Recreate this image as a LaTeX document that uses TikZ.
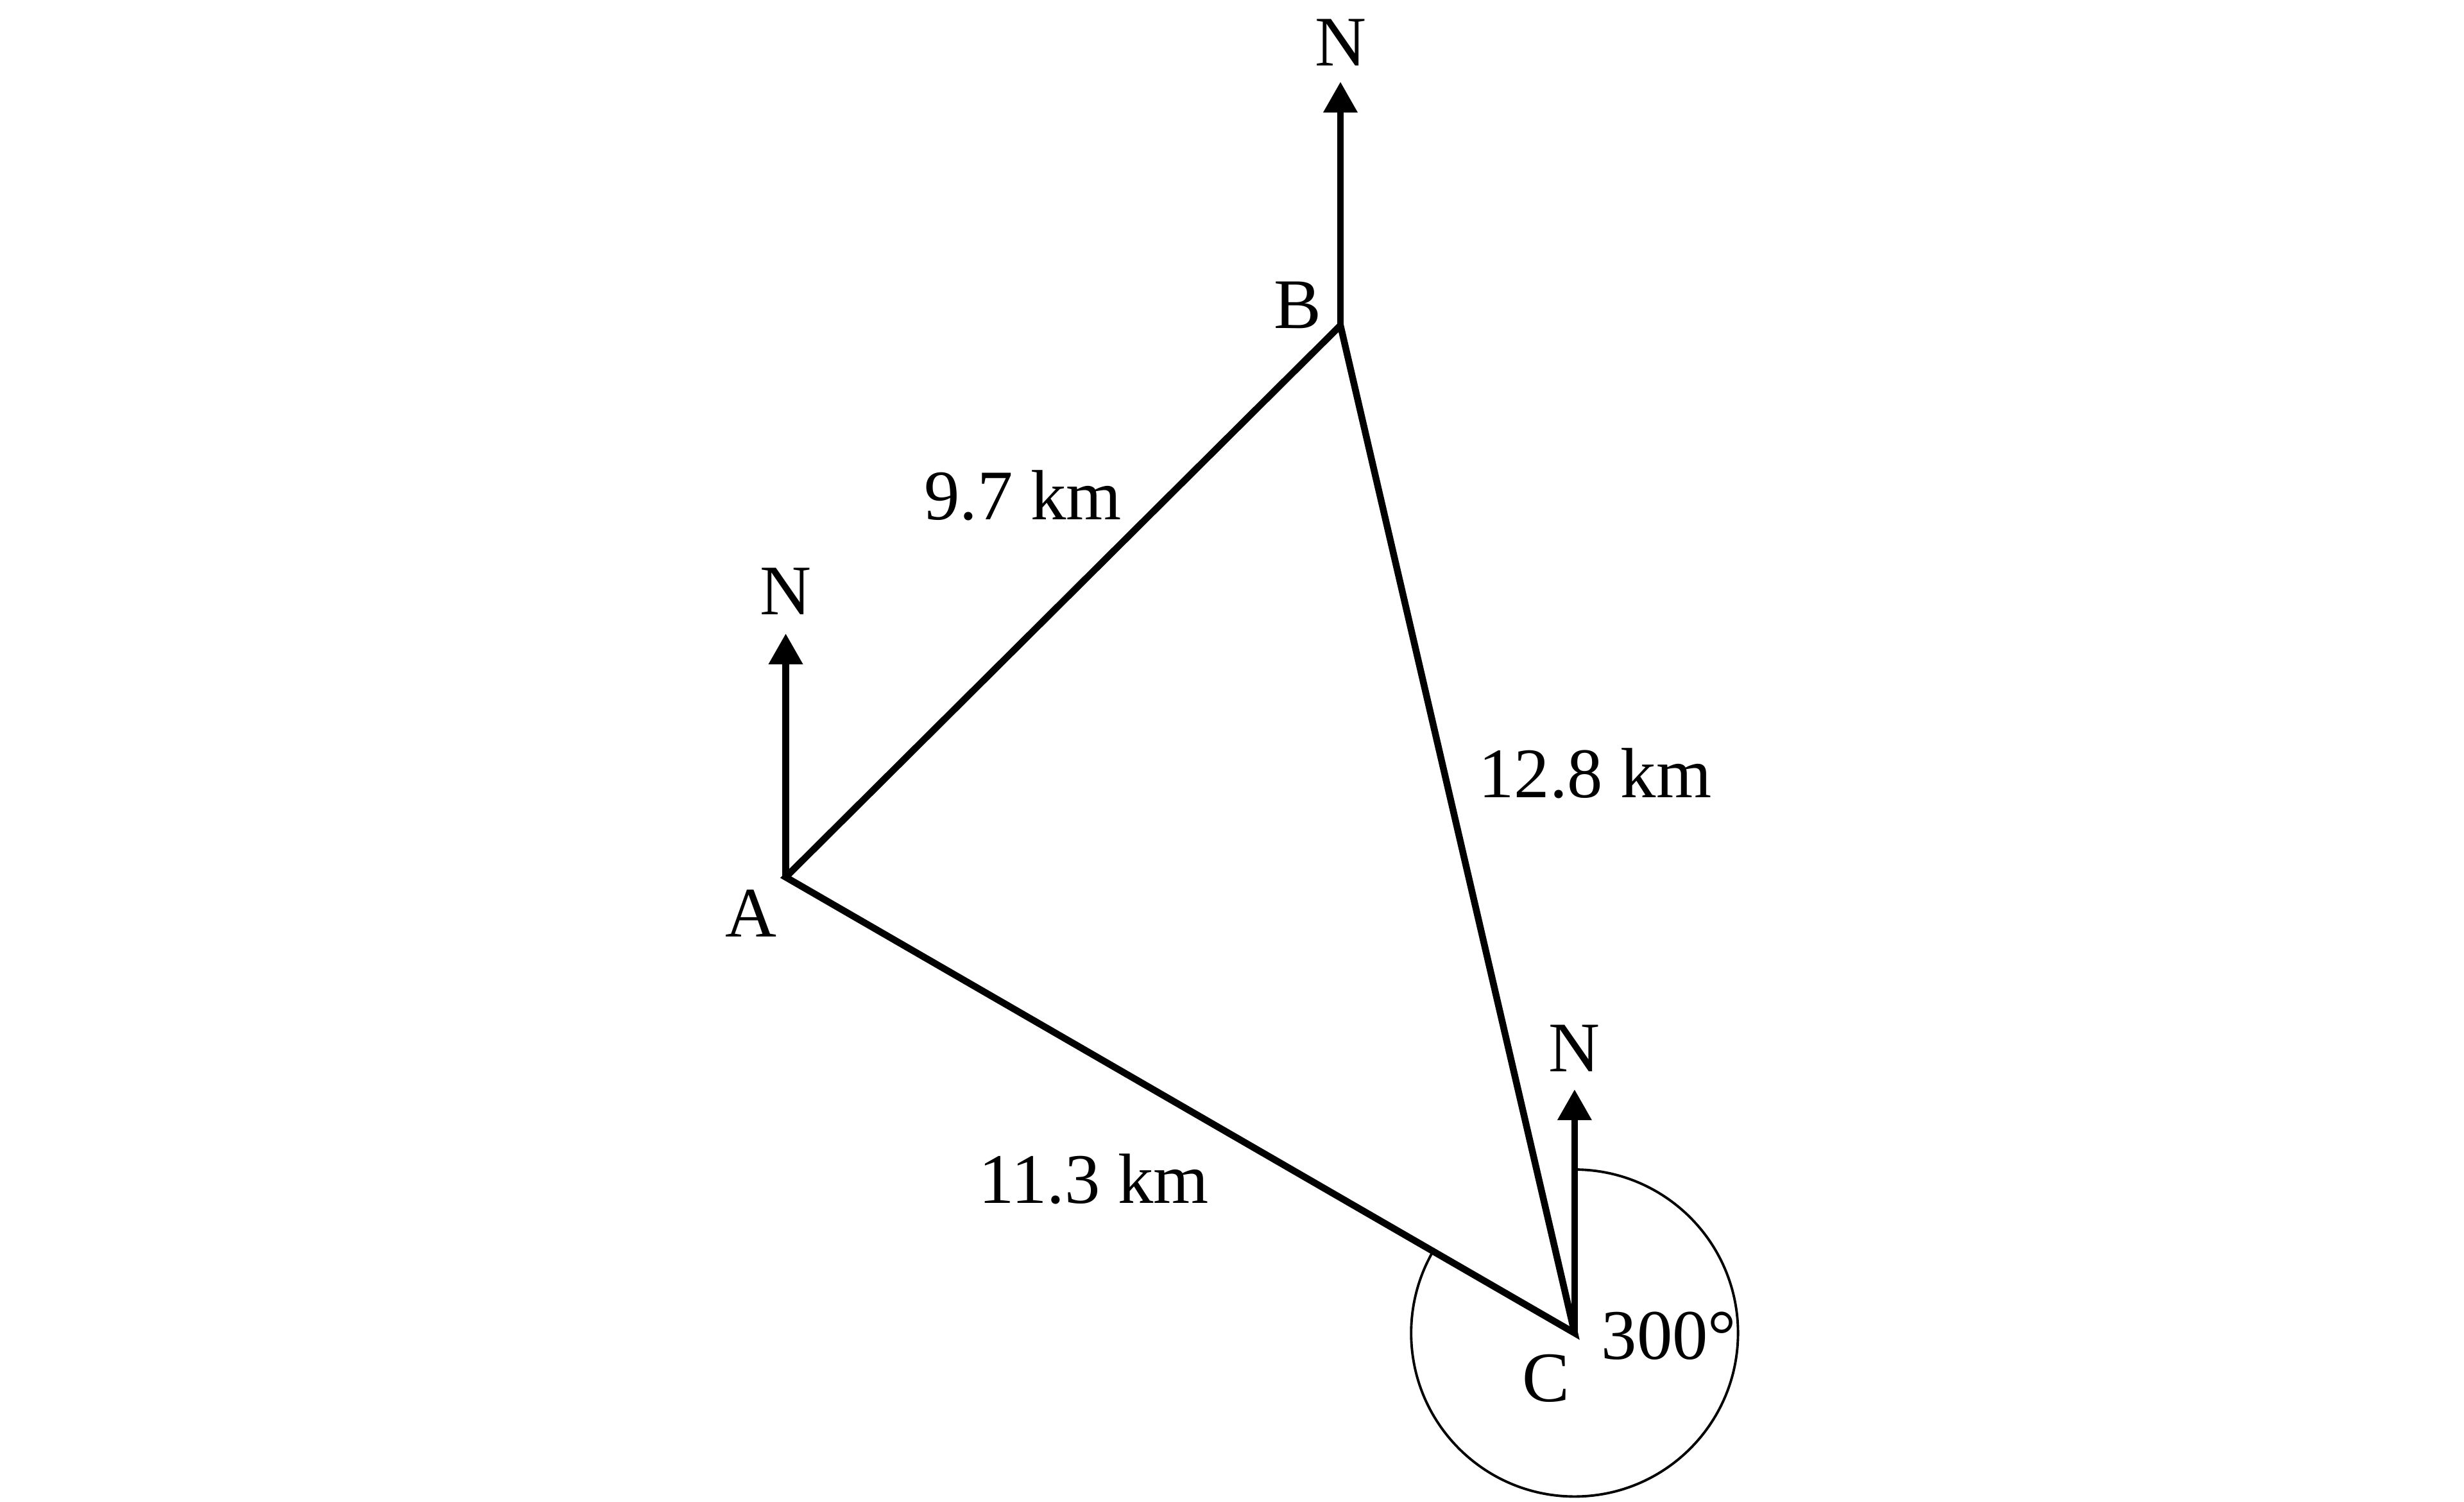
\documentclass[tikz,border=0pt]{standalone}
\usepackage{fontspec}
\setmainfont{Liberation Serif}
\usetikzlibrary{arrows.meta}
\begin{document}
\begin{tikzpicture}[x=0.02449cm,y=-0.02449cm,
  side/.style={line width=3pt,line join=miter},
  north/.style={line width=3pt,-{Triangle[width=0.51cm,length=0.48cm]}},
  lbl/.style={inner sep=0pt,font=\fontsize{31.5}{36}\selectfont},
  bear/.style={line width=1.1pt}]
\useasboundingbox (0,0) rectangle (1568,955.5);
\coordinate (A) at (500,558);
\coordinate (B) at (853,207);
\coordinate (C) at (1002,848);
\coordinate (nA) at (500,403);
\coordinate (nB) at (853,52);
\coordinate (nC) at (1002,693);
% bearing arc
\draw[bear] (C) ++(0,-104) arc[start angle=90,end angle=-210,radius=104*0.02449cm];
% triangle
\draw[side] (A) -- (B) -- (C) -- cycle;
% north arrows
\draw[north] (A) -- (nA);
\draw[north] (B) -- (nB);
\draw[north] (C) -- (nC);
% labels
\node[lbl] (NA) at (500,376) {N};
\node[lbl] (NB) at (853,27) {N};
\node[lbl] (NC) at (1002,667) {N};
\node[lbl] (lA) at (478,581) {A};
\node[lbl] (lB) at (826,194) {B};
\node[lbl] (lC) at (984,877) {C};
\node[lbl] (dAB) at (651,315) {9.7 km};
\node[lbl] (dBC) at (1015,492) {12.8 km};
\node[lbl] (dAC) at (696,750) {11.3 km};
\node[lbl] (ang) at (1062,850) {300°};
\end{tikzpicture}
\end{document}
